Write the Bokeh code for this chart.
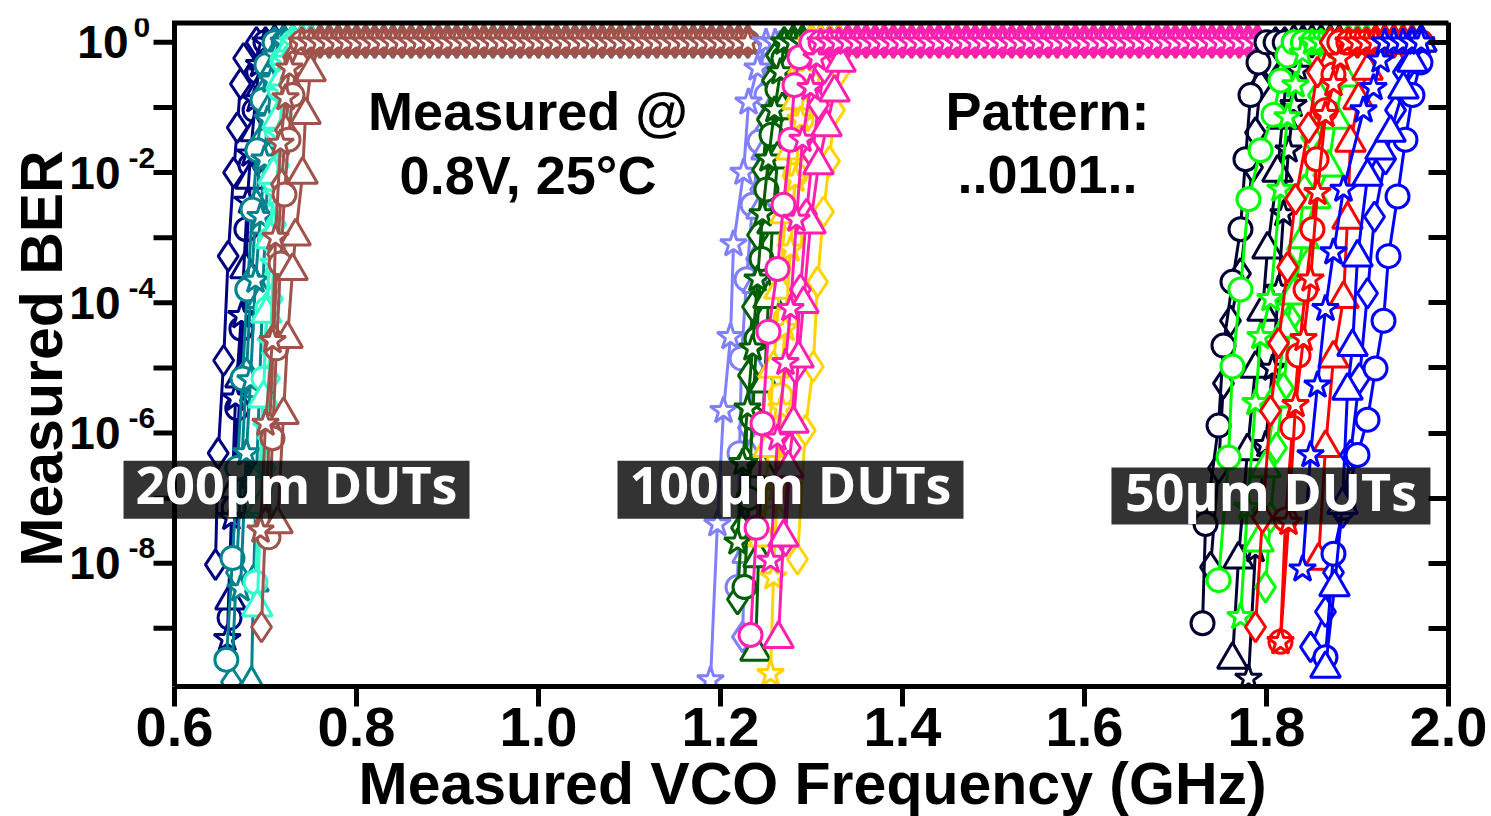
import numpy as np
from bokeh.plotting import figure
from bokeh.models import Range1d, FixedTicker, Label, Title, NumeralTickFormatter, CustomJSTickFormatter
from bokeh.embed import file_html
from bokeh.resources import INLINE
from bokeh.core.properties import value

# ---------------- data ----------------
x_ticks = [0.6, 0.8, 1.0, 1.2, 1.4, 1.6, 1.8, 2.0]
y_major = [1.0, 1e-2, 1e-4, 1e-6, 1e-8]
y_minor = [1e-1, 1e-3, 1e-5, 1e-7, 1e-9]
y_all = [1.0, 1e-1, 1e-2, 1e-3, 1e-4, 1e-5, 1e-6, 1e-7, 1e-8, 1e-9]
y_exp_labels = ["0", "-2", "-4", "-6", "-8"]
SAT_BER = 1.0

sat_f_200 = [0.68, 0.69, 0.70, 0.71, 0.72, 0.73, 0.74, 0.75, 0.76, 0.77, 0.78, 0.79, 0.80, 0.81, 0.82, 0.83,
             0.84, 0.85, 0.86, 0.87, 0.88, 0.89, 0.90, 0.91, 0.92, 0.93, 0.94, 0.95, 0.96, 0.97, 0.98, 0.99,
             1.00, 1.01, 1.02, 1.03, 1.04, 1.05, 1.06, 1.07, 1.08, 1.09, 1.10, 1.11, 1.12, 1.13, 1.14, 1.15,
             1.16, 1.17, 1.18, 1.19, 1.20, 1.21, 1.22, 1.23]
sat_f_100 = [1.24, 1.25, 1.26, 1.27, 1.28, 1.29, 1.30, 1.31, 1.32, 1.33, 1.34, 1.35, 1.36, 1.37, 1.38, 1.39,
             1.40, 1.41, 1.42, 1.43, 1.44, 1.45, 1.46, 1.47, 1.48, 1.49, 1.50, 1.51, 1.52, 1.53, 1.54, 1.55,
             1.56, 1.57, 1.58, 1.59, 1.60, 1.61, 1.62, 1.63, 1.64, 1.65, 1.66, 1.67, 1.68, 1.69, 1.70, 1.71,
             1.72, 1.73, 1.74, 1.75, 1.76, 1.77, 1.78, 1.79]
sat_f_50 = [1.79, 1.80, 1.81, 1.82, 1.83, 1.84, 1.85, 1.86, 1.87, 1.88, 1.89, 1.90, 1.91, 1.92, 1.93, 1.94,
            1.95, 1.96, 1.97]

# 200 um DUTs
f_navy_dia = [0.645, 0.648, 0.654, 0.659, 0.665, 0.669, 0.6725, 0.676]
b_navy_dia = [9.5e-9, 4.9e-7, 1.3e-5, 5.2e-4, 1e-2, 4.9e-2, 0.23, 0.57]
f_navy_cir = [0.6605, 0.665, 0.669, 0.6735, 0.679, 0.6835, 0.688, 0.692]
b_navy_cir = [1.45e-9, 7.1e-8, 2.4e-6, 4e-5, 1.35e-3, 1.3e-2, 9.1e-2, 0.35]
f_navy_tri = [0.6615, 0.667, 0.6725, 0.678, 0.6835, 0.689, 0.6945, 0.699]
b_navy_tri = [2.7e-9, 1.4e-7, 6.9e-6, 3.3e-4, 7.8e-3, 4.2e-2, 0.19, 0.53]
f_navy_star = [0.658, 0.6625, 0.667, 0.6735, 0.680, 0.6835, 0.689, 0.693]
b_navy_star = [6.9e-10, 5e-8, 3.4e-6, 6.3e-5, 3.6e-3, 1.9e-2, 0.13, 0.45]

f_teal_dia = [0.6626, 0.668, 0.6736, 0.679, 0.6846, 0.690, 0.6956, 0.701, 0.7055]
b_teal_dia = [1.5e-10, 7.2e-9, 2.9e-7, 8.3e-6, 2.3e-4, 3.2e-3, 3.2e-2, 0.19, 0.57]
f_teal_cir = [0.657, 0.6637, 0.669, 0.6747, 0.680, 0.6857, 0.691, 0.6967, 0.701]
b_teal_cir = [3.3e-10, 1.2e-8, 2.9e-7, 6.9e-6, 1.6e-4, 2.7e-3, 2.2e-2, 0.13, 0.45]
f_teal_tri = [0.6846, 0.6868, 0.690, 0.6934, 0.6967, 0.700, 0.7033, 0.7077, 0.712]
b_teal_tri = [1.4e-10, 5.1e-9, 2e-7, 4.9e-6, 1.15e-4, 1.6e-3, 1.6e-2, 0.11, 0.45]
f_teal_star = [0.6725, 0.679, 0.6835, 0.689, 0.6945, 0.6989, 0.7022, 0.7066, 0.711]
b_teal_star = [4e-9, 4.9e-7, 6.5e-6, 2.2e-4, 2.1e-3, 1.6e-2, 6.5e-2, 0.26, 0.63]

f_aqua_dia = [0.700, 0.7044, 0.7077, 0.711, 0.7143, 0.7176, 0.7209, 0.7242]
b_aqua_dia = [2.9e-7, 6.9e-6, 1.15e-4, 1.6e-3, 1.3e-2, 7.7e-2, 0.32, 0.7]
f_aqua_cir = [0.689, 0.6934, 0.6978, 0.702, 0.7055, 0.7088, 0.712, 0.7154, 0.7187]
b_aqua_cir = [5.1e-9, 1.4e-7, 6.9e-6, 8.1e-5, 9.5e-4, 7.8e-3, 4.5e-2, 0.19, 0.53]
f_aqua_tri = [0.691, 0.6945, 0.6978, 0.701, 0.7055, 0.7088, 0.7132, 0.7176, 0.722]
b_aqua_tri = [2.1e-9, 7.1e-8, 3.4e-6, 6.8e-5, 9.5e-4, 9.3e-3, 6.5e-2, 0.26, 0.63]
f_aqua_star = [0.6967, 0.701, 0.7055, 0.7088, 0.712, 0.7154, 0.7187, 0.722]
b_aqua_star = [5e-8, 1.2e-6, 2.4e-5, 4e-4, 4.6e-3, 3.8e-2, 0.19, 0.53]

f_brown_dia = [0.6956, 0.700, 0.7044, 0.7088, 0.7132, 0.7176, 0.722, 0.7264, 0.7308]
b_brown_dia = [1.05e-9, 4.2e-8, 1.2e-6, 2.8e-5, 5.6e-4, 6.6e-3, 4.5e-2, 0.22, 0.59]
f_brown_cir = [0.7033, 0.7077, 0.712, 0.7165, 0.7209, 0.7253, 0.7297, 0.734]
b_brown_cir = [2.5e-8, 8.3e-7, 2e-5, 4e-4, 4.6e-3, 3.2e-2, 0.155, 0.49]
f_brown_tri = [0.7132, 0.7198, 0.7242, 0.7297, 0.733, 0.7407, 0.744, 0.7495]
b_brown_tri = [4e-8, 1.9e-6, 2.8e-5, 3.1e-4, 1.05e-3, 9.3e-3, 7.7e-2, 0.35]
f_brown_star = [0.6945, 0.700, 0.7077, 0.711, 0.7165, 0.722, 0.7264]
b_brown_star = [3.2e-8, 1.4e-6, 2.6e-5, 1e-3, 2.8e-2, 0.14, 0.4]

# 100 um DUTs
f_peri_dia = [1.2242, 1.2275, 1.2308, 1.2352, 1.2396, 1.244, 1.2495, 1.255, 1.2604]
b_peri_dia = [7.4e-10, 3.5e-8, 1.2e-6, 2.8e-5, 4.7e-4, 5.5e-3, 4.5e-2, 0.22, 0.57]
f_peri_cir = [1.2187, 1.2209, 1.2231, 1.2286, 1.2352, 1.2429, 1.2505, 1.2582]
b_peri_cir = [4.3e-9, 4.9e-7, 1.4e-5, 2.3e-4, 3.2e-3, 3e-2, 0.155, 0.49]
f_peri_tri = [1.2297, 1.233, 1.2363, 1.2407, 1.2451, 1.2505, 1.2571, 1.2637, 1.2692]
b_peri_tri = [1.4e-8, 4.2e-7, 9.8e-6, 1.95e-4, 2.7e-3, 2.2e-2, 9.1e-2, 0.32, 0.7]
f_peri_star = [1.189, 1.1966, 1.2033, 1.211, 1.2143, 1.2253, 1.2308, 1.2407]
b_peri_star = [1.6e-10, 4e-8, 2.2e-6, 3e-5, 8e-4, 1e-2, 0.12, 0.4]

f_green_dia = [1.2187, 1.2231, 1.2275, 1.2308, 1.2352, 1.2407, 1.2462, 1.2516, 1.2571, 1.2615]
b_green_dia = [2.8e-9, 3.5e-8, 3.7e-7, 7.7e-6, 8.7e-5, 1.1e-3, 1.1e-2, 6.5e-2, 0.26, 0.63]
f_green_cir = [1.2264, 1.2308, 1.2352, 1.2396, 1.2451, 1.2505, 1.256, 1.2626, 1.2692]
b_green_cir = [4.3e-9, 1e-7, 1.7e-6, 2.8e-5, 4.7e-4, 5.5e-3, 3.8e-2, 0.19, 0.57]
f_green_tri = [1.2385, 1.2418, 1.2451, 1.2484, 1.2527, 1.2571, 1.2626, 1.2681, 1.2736]
b_green_tri = [4.4e-10, 1.2e-8, 2.9e-7, 5.8e-6, 1.15e-4, 1.6e-3, 1.6e-2, 9.1e-2, 0.37]
f_green_star = [1.2187, 1.2242, 1.2297, 1.2352, 1.2407, 1.2462, 1.2527, 1.2593, 1.2659]
b_green_star = [2.1e-8, 3.5e-7, 2.4e-6, 2e-5, 2.3e-4, 2.3e-3, 1.6e-2, 9.1e-2, 0.35]

f_gold_dia = [1.2846, 1.2932, 1.302, 1.3066, 1.3132, 1.3198, 1.3253, 1.3319]
b_gold_dia = [1.15e-8, 1.1e-6, 1.05e-5, 2.1e-4, 2.5e-3, 1.5e-2, 9.1e-2, 0.37]
f_gold_cir = [1.2582, 1.2615, 1.2659, 1.2714, 1.2769, 1.2824, 1.289, 1.2956]
b_gold_cir = [5e-8, 8.3e-7, 3.8e-6, 5.7e-5, 9.5e-4, 9.3e-3, 6.5e-2, 0.28]
f_gold_tri = [1.2473, 1.2527, 1.2582, 1.2648, 1.2714, 1.278, 1.2846, 1.2912]
b_gold_tri = [2.5e-8, 5.9e-7, 9.8e-6, 1.6e-4, 2.3e-3, 2.2e-2, 0.13, 0.45]
f_gold_star = [1.255, 1.2582, 1.2626, 1.267, 1.2714, 1.2769, 1.2824, 1.2879, 1.2945]
b_gold_star = [2e-10, 6.1e-9, 1.4e-7, 2.4e-6, 4e-5, 6.6e-4, 7.8e-3, 6.5e-2, 0.32]

f_pink_dia = [1.2714, 1.2769, 1.2824, 1.2879, 1.2945, 1.3011, 1.3077, 1.3143]
b_pink_dia = [2.2e-8, 5.9e-7, 9.8e-6, 1.6e-4, 2.3e-3, 1.9e-2, 0.11, 0.4]
f_pink_cir = [1.233, 1.2396, 1.2462, 1.2527, 1.2626, 1.2692, 1.2769, 1.2813, 1.2868]
b_pink_cir = [7.9e-10, 3.5e-8, 1.4e-6, 3.6e-5, 3.3e-4, 3.2e-3, 3.2e-2, 0.22, 0.59]
f_pink_tri = [1.2637, 1.2692, 1.2747, 1.2802, 1.2857, 1.2912, 1.2989, 1.3077, 1.3165, 1.3253, 1.3319]
b_pink_tri = [6.9e-10, 2.5e-8, 2.9e-7, 1.4e-6, 1.4e-5, 9.6e-5, 1.6e-3, 1.3e-2, 5e-2, 0.17, 0.49]
f_pink_star = [1.255, 1.2626, 1.2714, 1.2769, 1.2835, 1.2901, 1.2989, 1.3055]
b_pink_star = [1.1e-8, 8.3e-7, 1.2e-5, 8.1e-5, 1.9e-3, 3.2e-2, 0.2, 0.57]

# 50 um DUTs
f_dark_dia = [1.7385, 1.7473, 1.7527, 1.7604, 1.7714, 1.7846, 1.7879, 1.7934, 1.8022]
b_dark_dia = [8.7e-9, 2.9e-7, 5.8e-6, 5.3e-5, 2.8e-4, 1.2e-2, 4.1e-2, 0.22, 0.49]
f_dark_cir = [1.7297, 1.733, 1.7473, 1.7527, 1.7626, 1.7714, 1.7769, 1.7824, 1.7912]
b_dark_cir = [1.2e-9, 4e-8, 1.3e-6, 2.2e-5, 2.1e-4, 1.35e-3, 1.6e-2, 0.155, 0.49]
f_dark_tri = [1.7626, 1.7692, 1.7791, 1.7879, 1.7956, 1.8011, 1.8121, 1.8176, 1.8231]
b_dark_tri = [3.3e-10, 1.15e-8, 5.3e-7, 9.8e-6, 7.3e-5, 6.6e-4, 1e-2, 6.5e-2, 0.42]
f_dark_star = [1.7802, 1.7879, 1.7989, 1.8066, 1.8132, 1.8187, 1.8242, 1.8297, 1.8352]
b_dark_star = [1.7e-10, 1.6e-8, 6.6e-7, 9.8e-6, 1.6e-4, 2.3e-3, 2.2e-2, 0.11, 0.37]

f_lime_dia = [1.7989, 1.8044, 1.811, 1.8187, 1.8264, 1.8341, 1.8418, 1.8495, 1.8571, 1.8648]
b_lime_dia = [4.3e-9, 5e-8, 5.9e-7, 4.9e-6, 5.7e-5, 6.6e-4, 5.5e-3, 3.5e-2, 0.155, 0.49]
f_lime_cir = [1.7473, 1.7583, 1.7626, 1.7714, 1.7802, 1.7934, 1.8077, 1.8154, 1.8231]
b_lime_cir = [5.5e-9, 4.2e-7, 1.05e-5, 1.6e-4, 3.9e-3, 2.2e-2, 7.7e-2, 0.26, 0.63]
f_lime_tri = [1.7912, 1.7989, 1.8099, 1.8209, 1.8297, 1.8407, 1.8538, 1.8681, 1.8758, 1.8846]
b_lime_tri = [2.1e-8, 2.9e-7, 3.4e-6, 4e-5, 1.3e-4, 9.5e-4, 3.9e-3, 1.2e-2, 6.5e-2, 0.29]
f_lime_star = [1.7714, 1.7791, 1.7879, 1.7934, 1.8044, 1.8154, 1.8231, 1.8319, 1.8396]
b_lime_star = [1.5e-9, 7.1e-8, 2.9e-6, 3e-5, 1.15e-4, 5.5e-3, 7.1e-2, 0.22, 0.68]

f_red_dia = [1.7879, 1.7956, 1.8044, 1.8132, 1.8231, 1.8319, 1.8462, 1.856]
b_red_dia = [1.05e-9, 5e-8, 2.2e-6, 2.4e-5, 3.5e-4, 3.9e-3, 4.9e-2, 0.35]
f_red_cir = [1.8154, 1.8209, 1.8286, 1.8352, 1.8429, 1.8505, 1.855, 1.8648, 1.8736]
b_red_cir = [6.2e-10, 4.7e-8, 1.2e-6, 1.55e-5, 1.6e-4, 1.35e-3, 1.6e-2, 9.1e-2, 0.32]
f_red_tri = [1.8571, 1.8648, 1.8736, 1.8846, 1.889, 1.8923, 1.9011, 1.911]
b_red_tri = [1.1e-8, 5.9e-7, 1.4e-5, 1.15e-4, 1.9e-3, 2.9e-2, 0.13, 0.37]
f_red_star = [1.8154, 1.8242, 1.8319, 1.8407, 1.8484, 1.856, 1.8648, 1.8736, 1.8813]
b_red_star = [6.2e-10, 4.2e-8, 2.7e-6, 2.8e-5, 2.3e-4, 4.9e-3, 7.7e-2, 0.23, 0.57]

f_blue_dia = [1.8484, 1.8648, 1.8736, 1.8835, 1.8923, 1.9022, 1.911, 1.9187, 1.9308, 1.9418, 1.9505]
b_blue_dia = [5.2e-10, 1.8e-9, 7.2e-9, 6e-8, 4.6e-7, 6.9e-6, 1.4e-4, 2.1e-3, 1.6e-2, 9.1e-2, 0.35]
f_blue_cir = [1.8648, 1.8736, 1.8846, 1.9, 1.911, 1.9198, 1.9286, 1.9341, 1.944, 1.9527, 1.9604, 1.9692]
b_blue_cir = [3.6e-10, 1.4e-8, 7.1e-8, 4.6e-7, 1.6e-6, 9.8e-6, 5.3e-5, 5.2e-4, 4.3e-3, 3.2e-2, 0.155, 0.49]
f_blue_tri = [1.8648, 1.8747, 1.8835, 1.889, 1.8945, 1.9, 1.911, 1.9253, 1.9363, 1.9505, 1.9604]
b_blue_tri = [2.4e-10, 4.3e-9, 7.9e-8, 4.5e-6, 2.1e-5, 5e-4, 8.7e-3, 2.2e-2, 4.1e-2, 0.19, 0.49]
f_blue_star = [1.8396, 1.8484, 1.856, 1.8648, 1.8736, 1.8846, 1.9066, 1.9176, 1.9253]
b_blue_star = [8.1e-9, 4.6e-7, 5.4e-6, 8.1e-5, 6e-4, 5.5e-3, 9.1e-2, 0.2, 0.53]

group_labels = ["200µm DUTs", "100µm DUTs", "50µm DUTs"]
group_label_x = [0.7341, 1.2769, 1.8049]
group_label_y = [1.349e-7, 1.349e-7, 1.074e-7]

# ---------------- styles ----------------
C = dict(navy="#000080", teal="#00838F", aqua="#33FFCC", brown="#A0524B",
         peri="#8080FF", green="#005F00", gold="#FFD400", pink="#FF20B0",
         dark="#000033", lime="#00FF00", red="#FF0000", blue="#0000FF")
MK = dict(dia=("diamond", 30), cir=("circle", 23), tri=("triangle", 30), star=("star", 28))
groups = [
    (sat_f_200, ["navy", "teal", "aqua", "brown"]),
    (sat_f_100, ["peri", "green", "gold", "pink"]),
    (sat_f_50, ["dark", "lime", "red", "blue"]),
]
FONT = "Liberation Sans"
PX = 1.0 / 910.0          # one pixel in GHz
Y_TOP_LINE = 1.985        # where the top frame line sits

p = figure(width=1491, height=816, y_axis_type="log", y_axis_location="right",
           x_range=Range1d(0.6 - 174 * PX, 2.0), y_range=Range1d(1.2793e-10, 2.3249),
           output_backend="svg", toolbar_location=None,
           min_border_left=0, min_border_right=43, min_border_top=18, min_border_bottom=126)
p.grid.visible = False
p.outline_line_color = None
p.background_fill_color = "white"
p.border_fill_color = "white"

g = globals()
for sat, colors in groups:
    for cname in colors:
        for mk in ["dia", "cir", "tri", "star"]:
            fr = g[f"f_{cname}_{mk}"]
            br = g[f"b_{cname}_{mk}"]
            extra = [s for s in sat if s > fr[-1] + 0.004]
            xs = list(fr) + extra
            ys = list(br) + [SAT_BER] * len(extra)
            col = C[cname]
            p.line(xs, ys, line_color=col, line_width=3)
            marker, size = MK[mk]
            p.scatter(xs, ys, marker=marker, size=size, line_color=col, line_width=3,
                      fill_color="white")

# ---------------- frame lines, left axis drawn by hand ----------------
p.segment(x0=[0.6], y0=[1.2793e-10], x1=[0.6], y1=[Y_TOP_LINE], line_color="black", line_width=5)
p.segment(x0=[0.6 - 2.5 * PX], y0=[Y_TOP_LINE], x1=[2.0 + 2.5 * PX], y1=[Y_TOP_LINE],
          line_color="black", line_width=5)
p.segment(x0=[0.6 - 21 * PX] * len(y_all), y0=y_all, x1=[0.6] * len(y_all), y1=y_all,
          line_color="black", line_width=5)
base_off = [-46 if e == "0" else -54 for e in y_exp_labels]
exp_off = [-41 if e == "0" else -46 for e in y_exp_labels]
p.text(x=[0.6] * len(y_major), y=y_major, text=["10"] * len(y_major), x_offset=base_off,
       y_offset=[0] * len(y_major), text_align="right", text_baseline="alphabetic",
       text_font=value(FONT), text_font_style="bold", text_font_size="46px", text_color="black")
p.text(x=[0.6] * len(y_major), y=y_major, text=y_exp_labels, x_offset=exp_off,
       y_offset=[-15] * len(y_major), text_align="left", text_baseline="alphabetic",
       text_font=value(FONT), text_font_style="bold", text_font_size="30px", text_color="black")
p.text(x=[0.6], y=[1.396e-5], text=["Measured BER"], angle=np.pi / 2, x_offset=[-133],
       text_align="center", text_baseline="alphabetic", text_font=value(FONT),
       text_font_style="bold", text_font_size="59px", text_color="black")

# ---------------- axes ----------------
xa = p.xaxis[0]
xa.bounds = (0.6, 2.0)
xa.ticker = FixedTicker(ticks=x_ticks)
xa.formatter = NumeralTickFormatter(format="0.0")
xa.axis_line_width = 5
xa.major_tick_line_width = 5
xa.major_tick_out = 20
xa.major_tick_in = 0
xa.minor_tick_out = 0
xa.minor_tick_in = 0
xa.major_label_standoff = 1
xa.major_label_text_font = FONT
xa.major_label_text_font_style = "bold"
xa.major_label_text_font_size = "56px"
xa.major_label_text_color = "black"

p.add_layout(Title(text="Measured VCO Frequency (GHz)", align="left", offset=358, standoff=0,
                   text_font=FONT, text_font_style="bold", text_font_size="59px",
                   text_color="black"), "below")

ra = p.yaxis[0]
ra.bounds = (1.2793e-10, Y_TOP_LINE)
ra.ticker = FixedTicker(ticks=y_major, minor_ticks=y_minor)
ra.formatter = CustomJSTickFormatter(code="return ''")
ra.axis_line_width = 5
ra.major_tick_line_width = 5
ra.minor_tick_line_width = 5
ra.major_tick_in = 20
ra.major_tick_out = 0
ra.minor_tick_in = 20
ra.minor_tick_out = 0
ra.major_label_text_font_size = "1px"

# ---------------- in-plot notes ----------------
for txt, x, y in [("Measured @", 0.98846, 0.0885), ("0.8V, 25°C", 0.98846, 0.00932),
                  ("Pattern:", 1.5593, 0.0885), ("..0101..", 1.5593, 0.00932)]:
    p.add_layout(Label(x=x, y=y, text=txt, text_align="center", text_baseline="alphabetic",
                       text_font=FONT, text_font_style="bold", text_font_size="54px",
                       text_color="black"))

# group boxes
p.rect(x=group_label_x, y=group_label_y, width=[346, 346, 319], height=[58, 58, 57],
       width_units="screen", height_units="screen", fill_color="black", fill_alpha=0.8,
       line_color=None)
p.text(x=group_label_x, y=group_label_y, text=group_labels, y_offset=[-6, -6, -6],
       text_align="center", text_baseline="alphabetic", text_font=value("Open Sans"),
       text_font_style="bold", text_font_size="52px", text_color="white")

open("out.html", "w").write(file_html(p, INLINE))
